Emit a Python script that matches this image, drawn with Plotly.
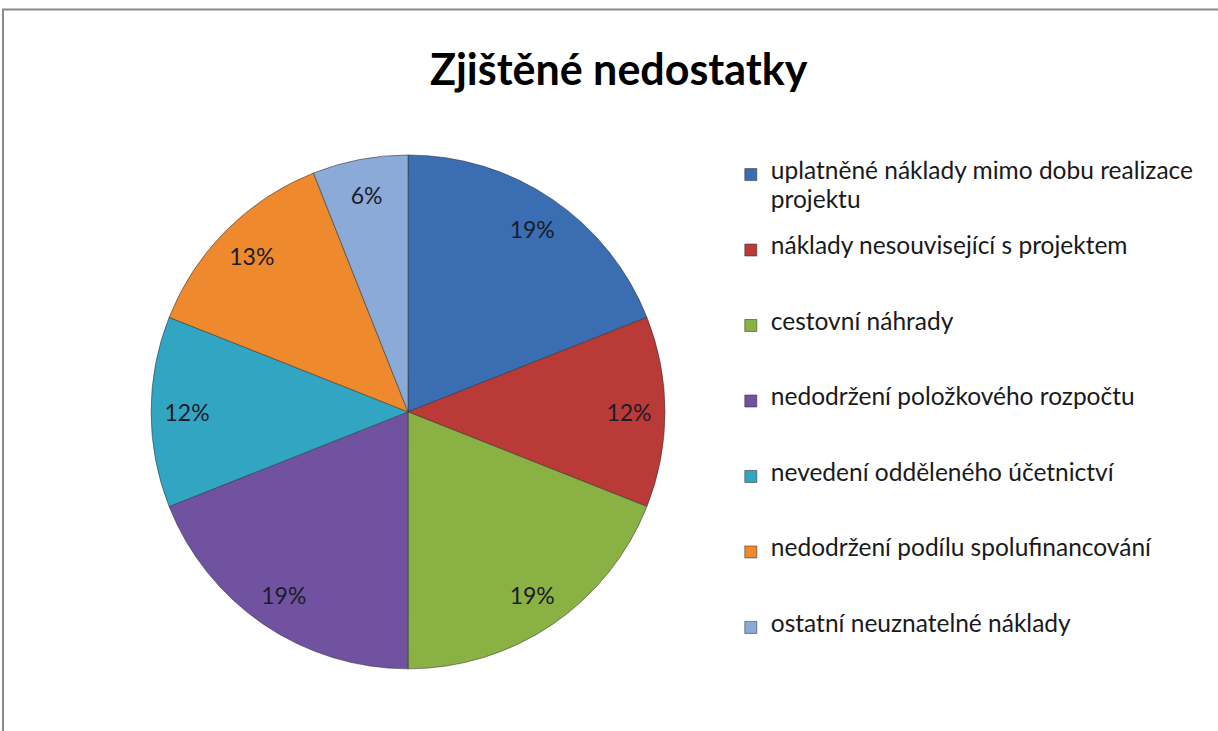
import plotly.graph_objects as go

labels = ['uplatněné náklady mimo dobu realizace<br>projektu',
          'náklady nesouvisející s projektem',
          'cestovní náhrady',
          'nedodržení položkového rozpočtu',
          'nevedení odděleného účetnictví',
          'nedodržení podílu spolufinancování',
          'ostatní neuznatelné náklady']
shares = [19, 12, 19, 19, 12, 13, 6]
colors = ['#3b6db3', '#b93a37', '#8ab143', '#7152a0', '#32a5c3', '#ee8a2d', '#8caad8']

# legend: big text in spans, small base font so blank lines give the row spacing
def legend_label(name, lines=5):
    parts = name.split('<br>')
    body = '<br><br>'.join('<span style="font-size:24.5px">%s</span>' % p for p in parts)
    used = 2 * len(parts) - 1
    return body + '<br> ' * (lines - used)

legend_names = [legend_label(n) for n in labels]
dom = dict(x=[0.124, 0.546], y=[0.085, 0.788])

fig = go.Figure()
fig.add_trace(go.Pie(labels=legend_names,
                     values=shares,
                     sort=False,
                     direction='clockwise',
                     rotation=0,
                     marker=dict(colors=colors,
                                 line=dict(color='rgba(50,50,50,0.55)', width=1)),
                     textinfo='none',
                     hoverinfo='skip',
                     domain=dom))

# percentage labels drawn in an invisible ring so they sit near the rim
fig.add_trace(go.Pie(labels=labels,
                     values=shares,
                     sort=False,
                     direction='clockwise',
                     rotation=0,
                     hole=0.72,
                     showlegend=False,
                     marker=dict(colors=['rgba(0,0,0,0)'] * len(shares),
                                 line=dict(width=0)),
                     texttemplate='%{value}%',
                     textposition='inside',
                     insidetextorientation='horizontal',
                     textfont=dict(family='Lato', size=23, color='#1c1c2a'),
                     hoverinfo='skip',
                     domain=dom))

fig.update_layout(title=dict(text='<b>Zjištěné nedostatky</b>',
                             x=0.508, xanchor='center',
                             y=0.904, yanchor='middle',
                             font=dict(family='Lato', size=43, color='black')),
                  width=1218, height=731,
                  margin=dict(l=0, r=0, t=0, b=0),
                  paper_bgcolor='white',
                  showlegend=True,
                  legend=dict(x=0.6, y=0.78, xanchor='left', yanchor='top',
                              valign='top',
                              font=dict(family='Lato', size=11.15, color='#1a1a1a'),
                              itemwidth=30,
                              bgcolor='rgba(0,0,0,0)'),
                  shapes=[dict(type='rect', xref='paper', yref='paper',
                               x0=3 / 1218, x1=1.05, y0=-0.05, y1=1 - 9.5 / 731,
                               line=dict(color='#8a8a8a', width=2))])

fig.write_html("out.html", config={'displayModeBar': False},
               post_script="document.body.style.margin='0';")
